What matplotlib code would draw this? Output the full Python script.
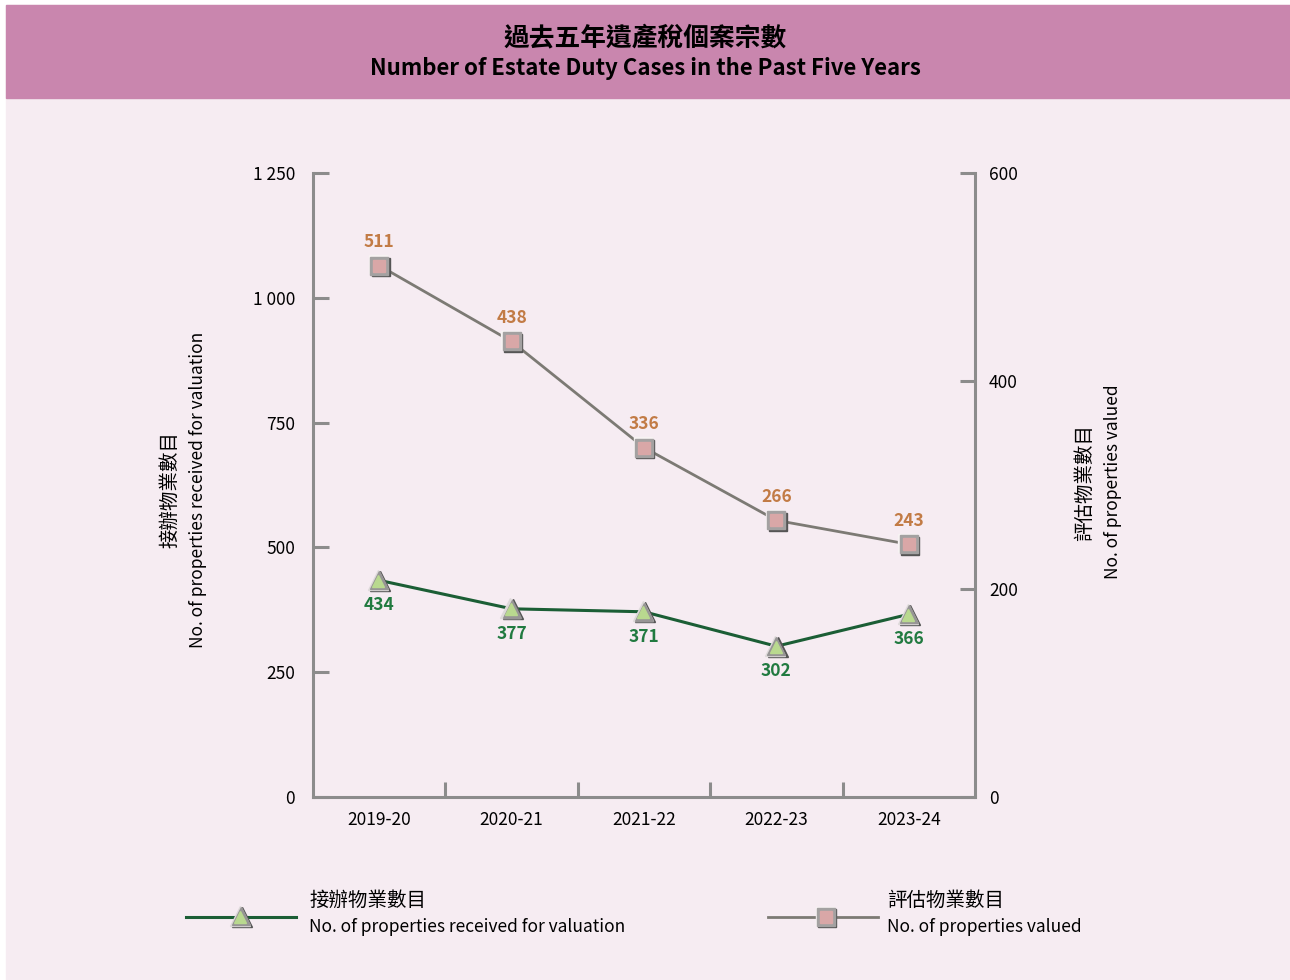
import matplotlib
matplotlib.use("Agg")
import matplotlib.pyplot as plt
from matplotlib.patches import Rectangle
from matplotlib.transforms import offset_copy
import numpy as np

plt.rcParams["font.family"] = ["Noto Sans CJK TC", "DejaVu Sans"]

years = ["2019-20", "2020-21", "2021-22", "2022-23", "2023-24"]
received = [434, 377, 371, 302, 366]
valued = [511, 438, 336, 266, 243]
left_ticks = [0, 250, 500, 750, 1000, 1250]
left_labels = ["0", "250", "500", "750", "1 000", "1 250"]
right_ticks = [0, 200, 400, 600]

BG = "#F6ECF2"
BAND = "#C986AE"
SPINE = "#8C8C8C"
GREEN_LINE = "#1B5E35"
GREEN_TEXT = "#217A40"
GRAY_LINE = "#7C7A74"
ORANGE_TEXT = "#C27B45"
PINK = "#D9A7A7"
LIGHT_GREEN = "#B9D98F"

fig = plt.figure(figsize=(12.9, 9.8), dpi=100, facecolor="white")
fig.patches.append(Rectangle((6 / 1290, 0), 1 - 6 / 1290, 1 - 5 / 980,
                             transform=fig.transFigure, color=BG, zorder=-10))
fig.patches.append(Rectangle((6 / 1290, 1 - 98 / 980), 1 - 6 / 1290, 93 / 980,
                             transform=fig.transFigure, color=BAND, zorder=-9))

fig.text(0.5, 0.961, "過去五年遺產稅個案宗數", ha="center", va="center",
         fontsize=18.5, fontweight="bold", color="black")
fig.text(0.5, 0.9306, "Number of Estate Duty Cases in the Past Five Years",
         ha="center", va="center", fontsize=16, fontweight="bold", color="black")

ax = fig.add_axes([313 / 1290, 183 / 980, 662 / 1290, 624 / 980])
ax.set_facecolor("none")
ax2 = ax.twinx()
ax2.set_facecolor("none")

x = np.arange(len(years))


def square_marker(axis, xs, ys, ms=13):
    axis.plot(xs, ys, "s", ms=ms, color="#555555", zorder=4,
              transform=offset_copy(axis.transData, fig=fig, x=1.0, y=-1.0, units="points"))
    axis.plot(xs, ys, "s", ms=ms, color="#f7f3f3", zorder=5,
              transform=offset_copy(axis.transData, fig=fig, x=-1.0, y=1.0, units="points"))
    axis.plot(xs, ys, "s", ms=ms - 0.6, color="#a3a1a1", zorder=6)
    axis.plot(xs, ys, "s", ms=ms - 4.5, color=PINK, zorder=7)


def triangle_marker(axis, xs, ys, ms=14):
    axis.plot(xs, ys, "^", ms=ms, color="#555555", zorder=4,
              transform=offset_copy(axis.transData, fig=fig, x=0.9, y=-0.5, units="points"))
    axis.plot(xs, ys, "^", ms=ms, color="#dedada", zorder=5,
              transform=offset_copy(axis.transData, fig=fig, x=-0.9, y=0.3, units="points"))
    axis.plot(xs, ys, "^", ms=ms - 1.5, color="#979595", zorder=6)
    axis.plot(xs, ys, "^", ms=ms - 5.5, color=LIGHT_GREEN, zorder=7,
              transform=offset_copy(axis.transData, fig=fig, x=-0.6, y=-0.4, units="points"))


# received: left axis
ax.plot(x, received, color=GREEN_LINE, lw=2.2, zorder=3)
triangle_marker(ax, x, received)
for xi, v in zip(x, received):
    ax.annotate(str(v), (xi, v), xytext=(0, -18), textcoords="offset points",
                ha="center", va="center", fontsize=12.5, fontweight="bold", color=GREEN_TEXT)

# valued: right axis
ax2.plot(x, valued, color=GRAY_LINE, lw=2.0, zorder=3)
square_marker(ax2, x, valued)
for xi, v in zip(x, valued):
    ax2.annotate(str(v), (xi, v), xytext=(0, 17), textcoords="offset points",
                 ha="center", va="center", fontsize=12.5, fontweight="bold", color=ORANGE_TEXT)

ax.set_xlim(-0.5, 4.5)
ax.set_ylim(0, 1250)
ax2.set_ylim(0, 600)

ax.set_yticks(left_ticks)
ax.set_yticklabels(left_labels)
ax2.set_yticks(right_ticks)
ax.set_xticks(x)
ax.set_xticklabels(years)
ax.set_xticks(x[:-1] + 0.5, minor=True)

for a in (ax, ax2):
    for s in a.spines.values():
        s.set_color(SPINE)
        s.set_linewidth(2.2)
    a.spines["top"].set_visible(False)

ax.spines["right"].set_visible(False)
ax2.spines["left"].set_visible(False)
ax2.spines["bottom"].set_visible(False)

ax.tick_params(axis="y", direction="in", length=11.5, width=2.2, color=SPINE,
               labelsize=12.5, pad=13)
ax2.tick_params(axis="y", direction="in", length=11, width=2.2, color=SPINE,
                labelsize=12.5, pad=10)
ax.tick_params(axis="x", which="major", length=0, labelsize=12.5, pad=10)
ax.tick_params(axis="x", which="minor", direction="in", length=10.5, width=2.2, color=SPINE)

# axis titles
fig.text(170 / 1290, 0.5, "接辦物業數目", rotation=90, ha="center", va="center", fontsize=14)
fig.text(198 / 1290, 0.5, "No. of properties received for valuation", rotation=90,
         ha="center", va="center", fontsize=12.5)
fig.text(1085 / 1290, 0.508, "評估物業數目", rotation=90, ha="center", va="center", fontsize=14)
fig.text(1113 / 1290, 0.508, "No. of properties valued", rotation=90,
         ha="center", va="center", fontsize=12.5)

# legend
leg = fig.add_axes([0, 0, 1, 1], facecolor="none")
leg.set_xlim(0, 1290)
leg.set_ylim(980, 0)
leg.axis("off")
leg.plot([186, 296], [917, 917], color=GREEN_LINE, lw=2.2)
triangle_marker(leg, [241], [916])
leg.plot([768, 878], [917, 917], color=GRAY_LINE, lw=2.0)
square_marker(leg, [826], [917])
leg.text(309, 900, "接辦物業數目", ha="left", va="center", fontsize=14)
leg.text(309, 927, "No. of properties received for valuation", ha="left", va="center", fontsize=12.5)
leg.text(887, 900, "評估物業數目", ha="left", va="center", fontsize=14)
leg.text(887, 927, "No. of properties valued", ha="left", va="center", fontsize=12.5)

fig.savefig("out.png", dpi=100, facecolor="white")
